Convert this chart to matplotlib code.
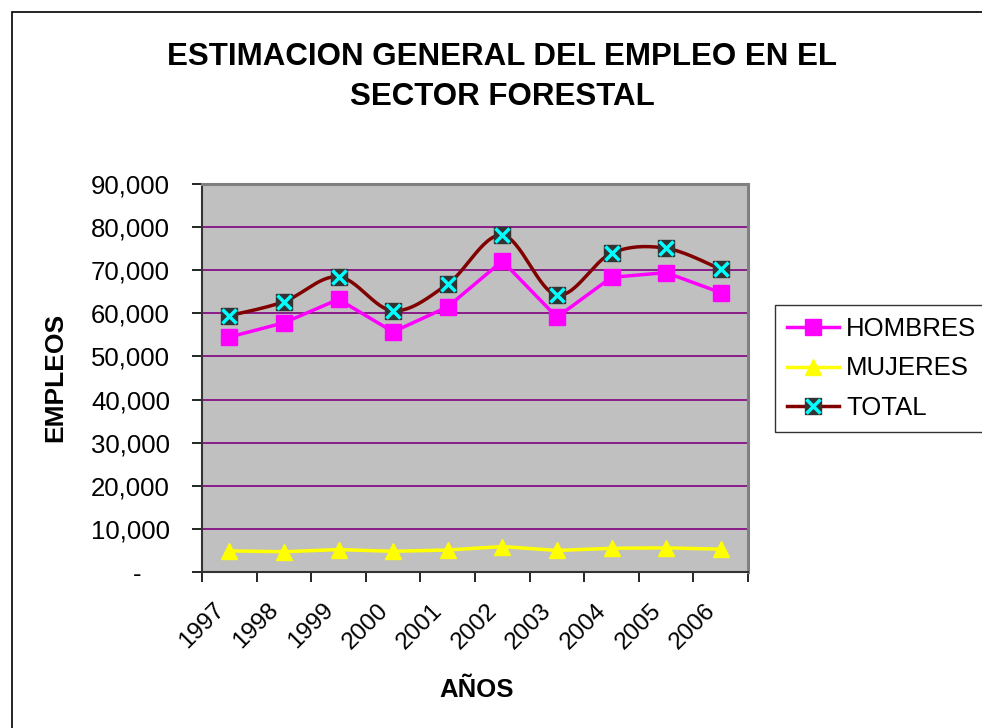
import numpy as np
import matplotlib
matplotlib.use("Agg")
import matplotlib.pyplot as plt
from matplotlib.lines import Line2D
from matplotlib.patches import Rectangle
from matplotlib.ticker import FuncFormatter
import matplotlib.transforms as mtransforms

plt.rcParams['font.family'] = ['Liberation Sans', 'DejaVu Sans']

years = ['1997', '1998', '1999', '2000', '2001', '2002', '2003', '2004', '2005', '2006']
hombres = [54500, 57800, 63250, 55700, 61500, 72150, 59100, 68350, 69450, 64800]
mujeres = [4900, 4700, 5200, 4800, 5100, 5900, 5000, 5500, 5600, 5300]
total = [59450, 62700, 68500, 60600, 66800, 78150, 64250, 73950, 75100, 70250]
series_names = ['HOMBRES', 'MUJERES', 'TOTAL']


def smooth_curve(xs, ys, n=30):
    # excel style smoothed line: bezier segments with catmull-rom tangents
    pts = np.column_stack([xs, ys]).astype(float)
    out = []
    for i in range(len(pts) - 1):
        p0 = pts[i - 1] if i > 0 else pts[i]
        p1 = pts[i]
        p2 = pts[i + 1]
        p3 = pts[i + 2] if i + 2 < len(pts) else pts[i + 1]
        c1 = p1 + (p2 - p0) / 6.0
        c2 = p2 - (p3 - p1) / 6.0
        t = np.linspace(0, 1, n)[:, None]
        seg = ((1 - t) ** 3) * p1 + 3 * ((1 - t) ** 2) * t * c1 + 3 * (1 - t) * t ** 2 * c2 + t ** 3 * p2
        out.append(seg if i == 0 else seg[1:])
    out = np.vstack(out)
    return out[:, 0], out[:, 1]


W, H = 982, 728
fig = plt.figure(figsize=(W / 100, H / 100), dpi=100)
ax = fig.add_axes([202 / W, 1 - 572 / H, (748 - 202) / W, (572 - 184) / H])
ax.set_facecolor('#C0C0C0')

x = np.arange(len(years))

ax.plot(x, hombres, color='#FF00FF', lw=2.5, marker='s', markersize=11,
        markerfacecolor='#FF00FF', markeredgecolor='#FF00FF', zorder=3)
ax.plot(x, mujeres, color='#FFFF00', lw=2.5, marker='^', markersize=12,
        markerfacecolor='#FFFF00', markeredgecolor='#FFFF00', zorder=3)
sx, sy = smooth_curve(x, total)
ax.plot(sx, sy, color='#800000', lw=2.5, zorder=4)
ax.plot(x, total, ls='none', marker='s', markersize=11.5,
        markerfacecolor='#333333', markeredgecolor='#333333', zorder=5)
ax.plot(x, total, ls='none', marker='x', markersize=10, markeredgewidth=2.5,
        color='#00FFFF', zorder=6)

ax.set_xlim(-0.5, len(years) - 0.5)
ax.set_ylim(0, 90000)
ax.set_yticks(np.arange(0, 90001, 10000))
ax.yaxis.set_major_formatter(FuncFormatter(lambda v, p: '{:,.0f}'.format(v) if v > 0 else '-    '))
ax.set_xticks(np.arange(-0.5, len(years), 1.0))
ax.set_xticklabels([])
ax.tick_params(axis='both', direction='out', length=7, width=1.2, color='black')
ax.tick_params(axis='y', labelsize=18.5, pad=16)
ax.yaxis.grid(True, color='#800080', lw=1.2)
ax.set_axisbelow(True)

for side in ['left', 'bottom']:
    ax.spines[side].set_color('#333333')
    ax.spines[side].set_linewidth(1.5)
for side in ['top', 'right']:
    ax.spines[side].set_color('#808080')
    ax.spines[side].set_linewidth(2.2)

trans = mtransforms.blended_transform_factory(ax.transData, ax.transAxes)
for i, yr in enumerate(years):
    ax.text(i - 0.3, -0.07, yr, transform=trans, rotation=45, ha='right', va='top',
            rotation_mode='anchor', fontsize=17.5)

fig.text(502 / W, 1 - 77 / H, 'ESTIMACION GENERAL DEL EMPLEO EN EL\nSECTOR FORESTAL',
         ha='center', va='center', fontsize=22.5, fontweight='bold', linespacing=1.4)
fig.text(55 / W, 1 - 377 / H, 'EMPLEOS', rotation=90, ha='center', va='center',
         fontsize=19, fontweight='bold')
fig.text(477 / W, 1 - 690 / H, 'AÑOS', ha='center', va='center', fontsize=18.5, fontweight='bold')

h_line = Line2D([], [], color='#FF00FF', lw=2.5, marker='s', markersize=11,
                markerfacecolor='#FF00FF', markeredgecolor='#FF00FF')
m_line = Line2D([], [], color='#FFFF00', lw=2.5, marker='^', markersize=12,
                markerfacecolor='#FFFF00', markeredgecolor='#FFFF00')
t_line = Line2D([], [], color='#800000', lw=2.5, marker='s', markersize=11.5,
                markerfacecolor='#333333', markeredgecolor='#333333')
t_x = Line2D([], [], ls='none', marker='x', markersize=10, markeredgewidth=2.5, color='#00FFFF')
leg = fig.legend([h_line, m_line, (t_line, t_x)], series_names,
                 loc='upper left', bbox_to_anchor=(775 / W, 1 - 305 / H),
                 fontsize=18.5, frameon=True, fancybox=False, edgecolor='black',
                 handlelength=2.05, handletextpad=0.27, borderpad=0.45,
                 labelspacing=0.62, borderaxespad=0)
leg.get_frame().set_linewidth(1.0)

fig.add_artist(Rectangle((12 / W, -0.05), 1.0, 1 - 12 / H + 0.05, transform=fig.transFigure,
                         fill=False, ec='black', lw=1.2))

fig.savefig('out.png', dpi=100)
